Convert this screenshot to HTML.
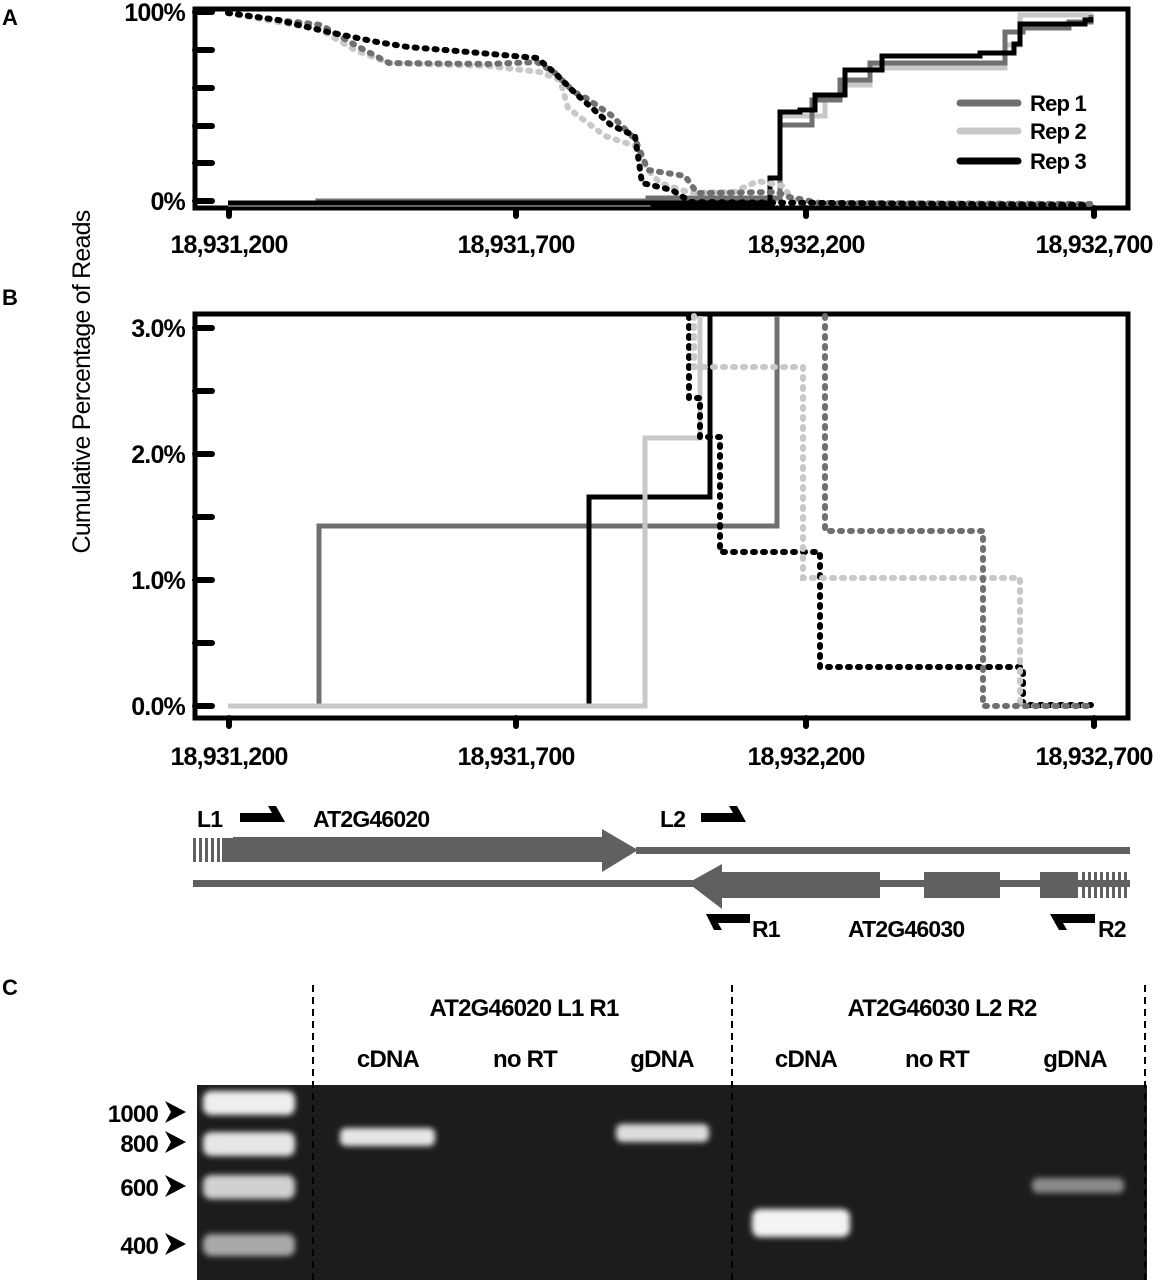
<!DOCTYPE html>
<html><head><meta charset="utf-8"><style>
html,body{margin:0;padding:0;background:#fff;}
svg{display:block;font-family:"Liberation Sans",sans-serif;}
svg text{font-weight:bold;letter-spacing:-0.8px;}
</style></head><body>
<svg width="1167" height="1280" viewBox="0 0 1167 1280" xmlns="http://www.w3.org/2000/svg">
<defs>
<filter id="bl" x="-20%" y="-100%" width="140%" height="300%"><feGaussianBlur stdDeviation="3"/></filter>
</defs>
<!-- Panel letters -->
<text x="2" y="25" font-size="22">A</text>
<text x="2" y="305" font-size="22">B</text>
<text x="2" y="995" font-size="22">C</text>
<text transform="translate(90,382) rotate(-90)" font-size="25" text-anchor="middle" style="font-weight:normal">Cumulative Percentage of Reads</text>

<!-- Panel A -->
<rect x="195" y="9" width="933" height="199" fill="none" stroke="#000" stroke-width="5"/>
<g stroke="#000" stroke-width="6" stroke-linecap="round">
<line x1="195" y1="12" x2="212" y2="12"/><line x1="195" y1="50" x2="212" y2="50"/><line x1="195" y1="88" x2="212" y2="88"/><line x1="195" y1="126" x2="212" y2="126"/><line x1="195" y1="163" x2="212" y2="163"/><line x1="195" y1="201" x2="212" y2="201"/>
<line x1="229" y1="208" x2="229" y2="216"/><line x1="516" y1="208" x2="516" y2="216"/><line x1="806" y1="208" x2="806" y2="216"/><line x1="1094" y1="208" x2="1094" y2="216"/>
</g>
<g font-size="25" text-anchor="end"><text x="185" y="21">100%</text><text x="185" y="210">0%</text></g>
<g font-size="25" text-anchor="middle"><text x="229" y="253">18,931,200</text><text x="516" y="253">18,931,700</text><text x="806" y="253">18,932,200</text><text x="1094" y="253">18,932,700</text></g>
<g fill="none" stroke-width="5" stroke-linejoin="miter">
<path stroke="#c8c8c8" d="M228,204 H648 V200 H780 V116 H825 V100 H840 V85 H870 V68 H1005 V45 H1020 V15 H1091 V13"/>
<path stroke="#707070" d="M228,203 H318 V201 H648 V198 H780 V125 H812 V100 H840 V80 H870 V63 H1005 V32 H1023 V28 H1069 V22 H1091 V15"/>
<path stroke="#000" d="M228,203 H770 V178 H780 V112 H800 V110 H815 V95 H845 V70 H882 V56 H980 V53 H1014 V44 H1020 V24 H1085 V20 H1091 V17"/>
</g>
<g fill="none" stroke-width="6" stroke-dasharray="2 8" stroke-linecap="round">
<polyline stroke="#c8c8c8" points="228,13 278,22 321,30 355,50 389,63 420,64 488,66 540,72 560,80 568,108 605,136 635,146 648,170 660,183 691,193 734,192 758,181 783,186 795,203 1091,204"/>
<polyline stroke="#707070" points="228,13 278,20 321,25 355,45 389,63 488,64 537,62 555,73 574,92 586,98 611,115 635,139 648,170 685,176 697,193 777,192 789,197 820,203 1091,204"/>
<polyline stroke="#000" points="228,13 278,20 328,32 377,42 408,47 457,51 537,58 555,73 574,92 592,108 611,125 635,136 642,183 672,190 691,202 1091,205"/>
</g>
<g stroke-width="7" stroke-linecap="round">
<line x1="960" y1="103" x2="1018" y2="103" stroke="#707070"/>
<line x1="960" y1="131" x2="1018" y2="131" stroke="#c8c8c8"/>
<line x1="960" y1="161" x2="1018" y2="161" stroke="#000"/>
</g>
<g font-size="22"><text x="1030" y="111">Rep 1</text><text x="1030" y="139">Rep 2</text><text x="1030" y="169">Rep 3</text></g>

<!-- Panel B -->
<rect x="195" y="314" width="933" height="404" fill="none" stroke="#000" stroke-width="5"/>
<g stroke="#000" stroke-width="6" stroke-linecap="round">
<line x1="195" y1="328" x2="212" y2="328"/><line x1="195" y1="391" x2="212" y2="391"/><line x1="195" y1="454" x2="212" y2="454"/><line x1="195" y1="517" x2="212" y2="517"/><line x1="195" y1="580" x2="212" y2="580"/><line x1="195" y1="643" x2="212" y2="643"/><line x1="195" y1="706" x2="212" y2="706"/>
<line x1="229" y1="718" x2="229" y2="726"/><line x1="516" y1="718" x2="516" y2="726"/><line x1="806" y1="718" x2="806" y2="726"/><line x1="1094" y1="718" x2="1094" y2="726"/>
</g>
<g font-size="25" text-anchor="end"><text x="185" y="337">3.0%</text><text x="185" y="463">2.0%</text><text x="185" y="589">1.0%</text><text x="185" y="715">0.0%</text></g>
<g font-size="25" text-anchor="middle"><text x="229" y="765">18,931,200</text><text x="516" y="765">18,931,700</text><text x="806" y="765">18,932,200</text><text x="1094" y="765">18,932,700</text></g>
<g fill="none" stroke-width="5">
<path stroke="#707070" d="M228,706 H319 V526 H777 V316"/>
<path stroke="#000" d="M589,706 V497 H710 V316"/>
<path stroke="#c8c8c8" d="M228,706 H645 V438 H700 V316"/>
</g>
<g fill="none" stroke-width="6" stroke-dasharray="2 8" stroke-linecap="round">
<path stroke="#000" d="M689,316 V398 H700 V437 H720 V552 H820 V667 H1023 V705 H1091"/>
<path stroke="#c8c8c8" d="M694,316 V367 H803 V578 H1020 V706 H1091"/>
<path stroke="#707070" d="M825,316 V531 H983 V706 H1091"/>
</g>

<!-- Gene diagram -->
<g fill="#606060">
<rect x="193" y="838" width="3" height="24"/><rect x="199" y="838" width="3" height="24"/><rect x="205" y="838" width="3" height="24"/>
<rect x="211" y="838" width="3" height="24"/><rect x="217" y="838" width="3" height="24"/>
<rect x="222" y="838" width="12" height="24"/>
<polygon points="233,837 602,837 602,829 638,850 602,872 602,862 233,862"/>
<rect x="636" y="847" width="494" height="7"/>
<rect x="193" y="880" width="500" height="7"/>
<polygon points="688,883 722,864 722,872 880,872 880,898 722,898 722,909"/>
<rect x="878" y="880" width="50" height="7"/>
<rect x="924" y="872" width="76" height="26"/>
<rect x="998" y="880" width="45" height="7"/>
<rect x="1040" y="872" width="38" height="26"/>
<rect x="1082" y="872" width="3" height="26"/><rect x="1088" y="872" width="3" height="26"/><rect x="1094" y="872" width="3" height="26"/><rect x="1100" y="872" width="3" height="26"/><rect x="1106" y="872" width="3" height="26"/><rect x="1112" y="872" width="3" height="26"/><rect x="1118" y="872" width="3" height="26"/><rect x="1124" y="872" width="3" height="26"/>
<rect x="1076" y="880" width="54" height="7"/>
</g>
<g font-size="23">
<text x="197" y="827">L1</text><text x="313" y="827">AT2G46020</text><text x="660" y="827">L2</text>
<text x="752" y="937">R1</text><text x="848" y="937">AT2G46030</text><text x="1098" y="937">R2</text>
</g>
<g fill="#000">
<path d="M240,813 H272 L268,806 H276 L285,822 H240 Z"/>
<path d="M701,813 H733 L729,806 H737 L746,822 H701 Z"/>
<path d="M750,923 H718 L722,930 H714 L706,914 H750 Z"/>
<path d="M1095,923 H1063 L1067,930 H1059 L1050,914 H1095 Z"/>
</g>

<!-- Panel C -->
<g font-size="24" text-anchor="middle">
<text x="524" y="1016">AT2G46020 L1 R1</text><text x="942" y="1016">AT2G46030 L2 R2</text>
<text x="388" y="1067">cDNA</text><text x="525" y="1067">no RT</text><text x="662" y="1067">gDNA</text>
<text x="806" y="1067">cDNA</text><text x="937" y="1067">no RT</text><text x="1075" y="1067">gDNA</text>
</g>
<rect x="197" y="1085" width="950" height="195" fill="#1c1c1c"/>
<g filter="url(#bl)">
<rect x="203" y="1091" width="92" height="24" rx="8" fill="#eeeeee"/>
<rect x="203" y="1132" width="92" height="24" rx="8" fill="#e6e6e6"/>
<rect x="203" y="1175" width="92" height="24" rx="8" fill="#d0d0d0"/>
<rect x="203" y="1234" width="92" height="22" rx="8" fill="#a8a8a8"/>
<rect x="340" y="1128" width="95" height="18" rx="6" fill="#e6e6e6"/>
<rect x="616" y="1124" width="93" height="18" rx="6" fill="#dddddd"/>
<rect x="752" y="1209" width="98" height="28" rx="8" fill="#f4f4f4"/>
<rect x="1032" y="1178" width="92" height="15" rx="6" fill="#8a8a8a"/>
</g>
<g stroke="#000" stroke-width="2" stroke-dasharray="7 5">
<line x1="313" y1="985" x2="313" y2="1280"/><line x1="732" y1="985" x2="732" y2="1280"/><line x1="1145" y1="985" x2="1145" y2="1280"/>
</g>
<g font-size="24" text-anchor="end">
<text x="158" y="1122">1000</text><text x="158" y="1152">800</text><text x="158" y="1196">600</text><text x="158" y="1254">400</text>
</g>
<g fill="#000">
<polygon points="165,1101 186,1112 165,1123 171,1112"/>
<polygon points="165,1131 186,1142 165,1153 171,1142"/>
<polygon points="165,1175 186,1186 165,1197 171,1186"/>
<polygon points="165,1233 186,1244 165,1255 171,1244"/>
</g>
</svg>
</body></html>
